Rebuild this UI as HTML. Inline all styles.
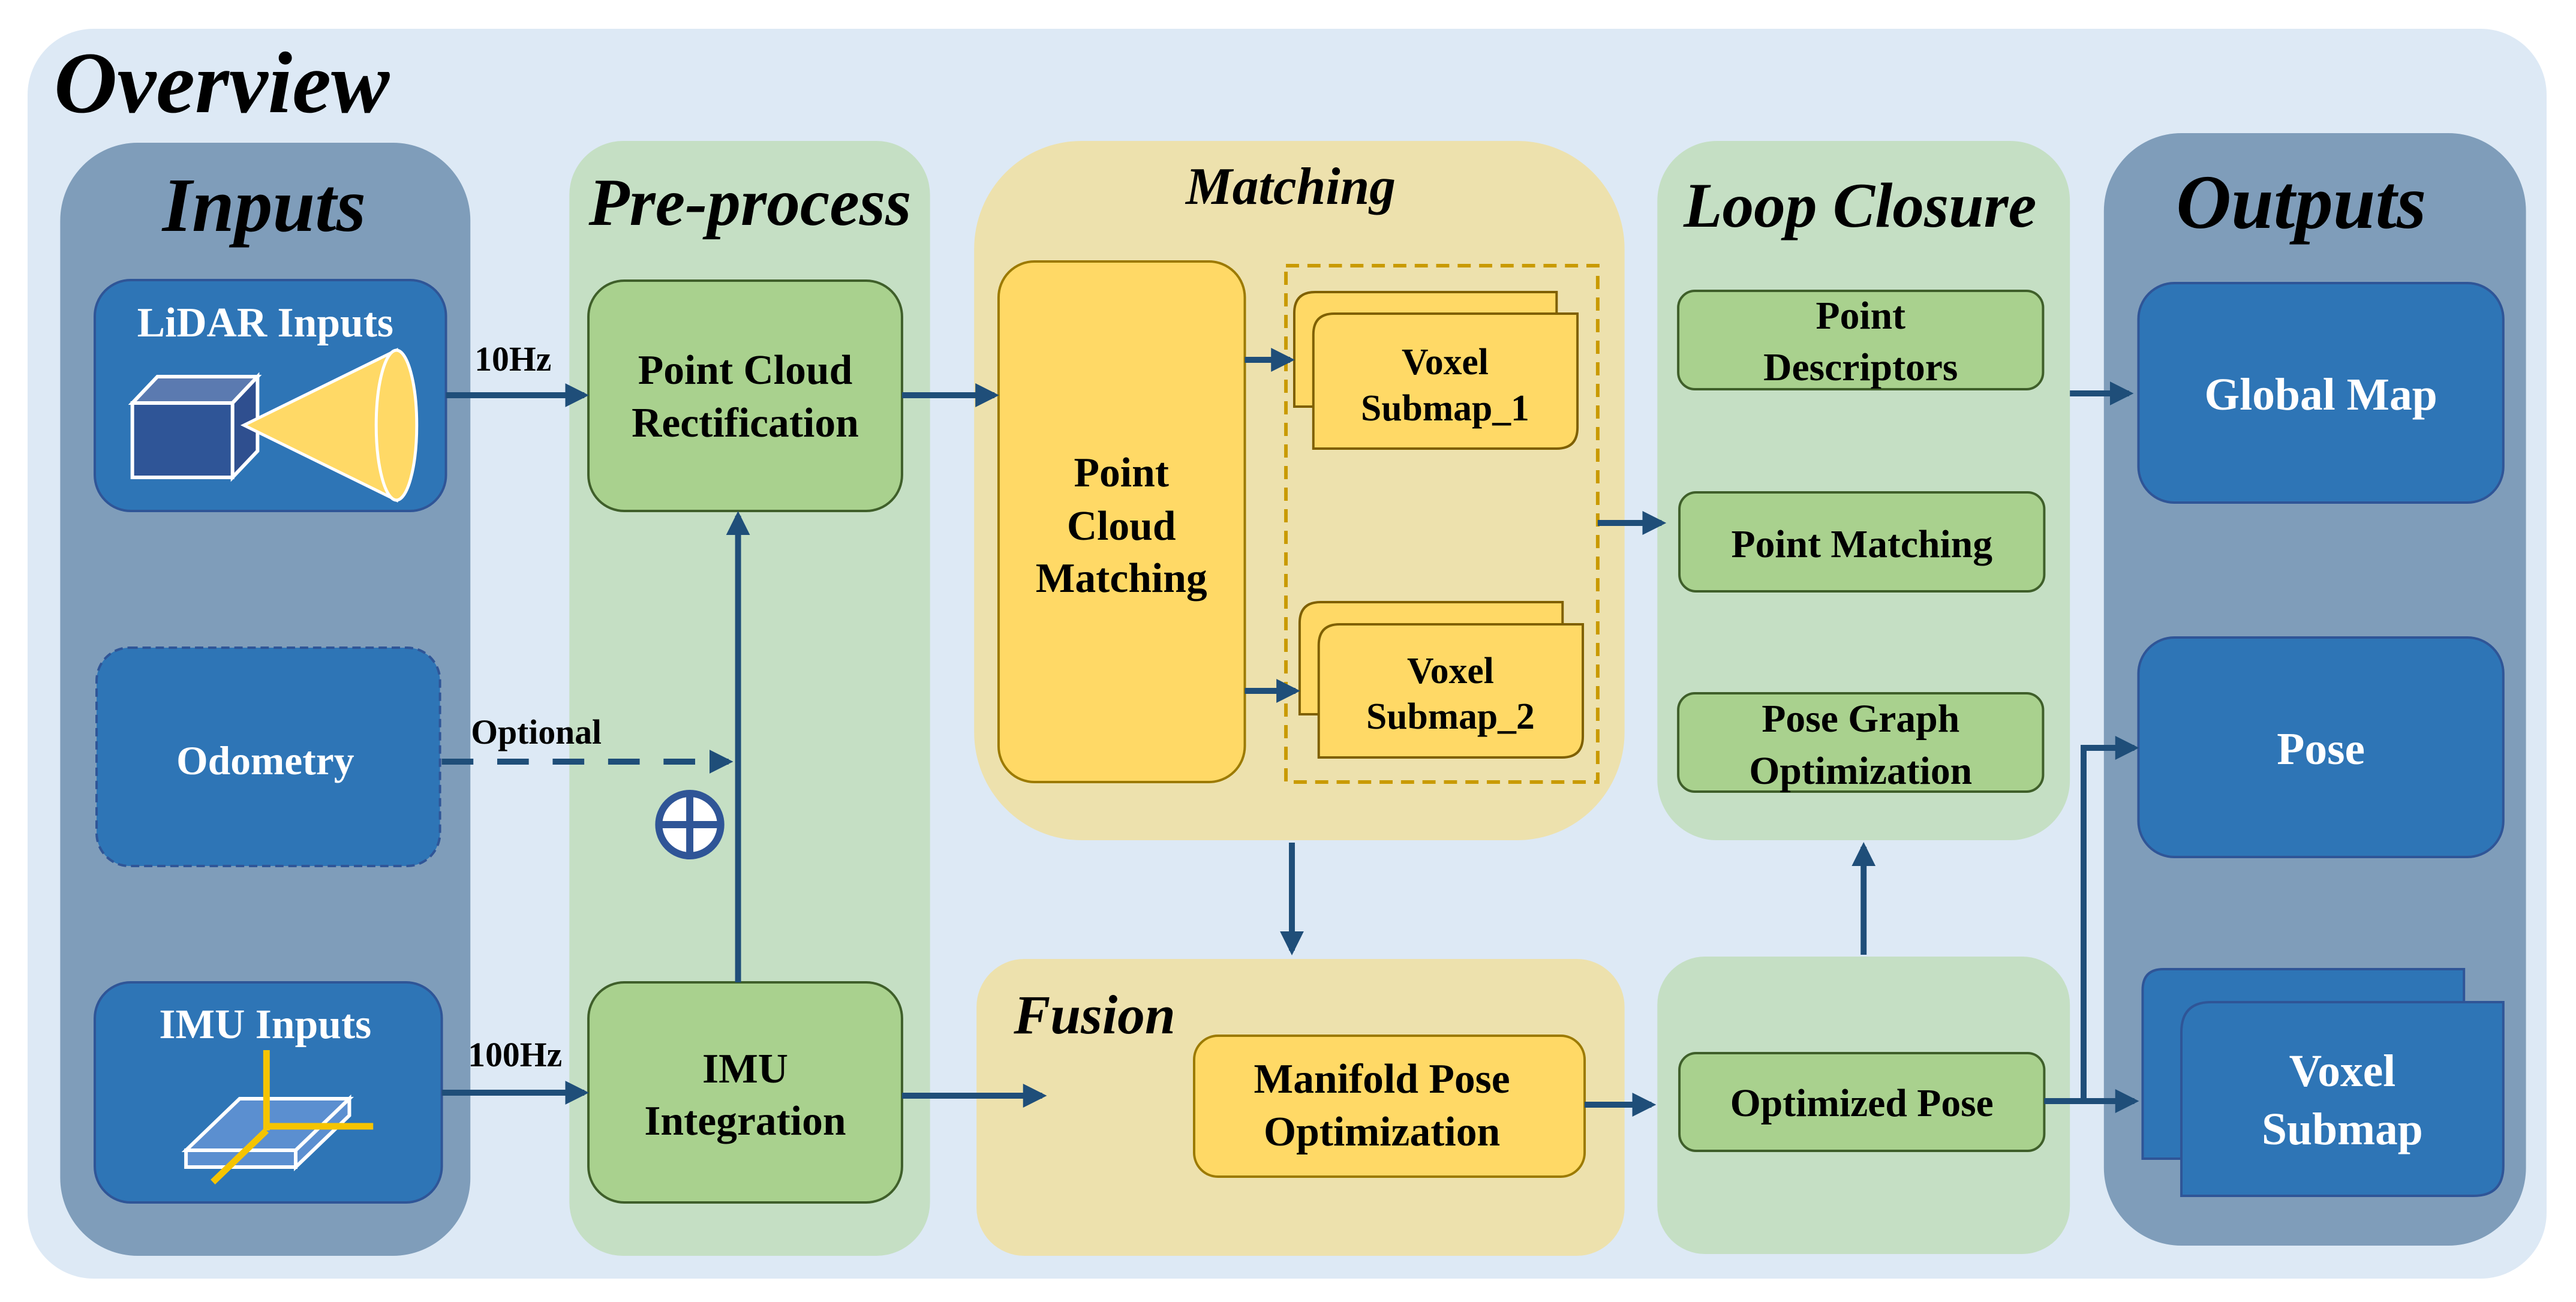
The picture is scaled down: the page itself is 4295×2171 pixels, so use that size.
<!DOCTYPE html>
<html><head><meta charset="utf-8"><style>
html,body{margin:0;padding:0;background:#fff;}
svg{display:block;}
text{font-family:"Liberation Serif",serif;font-weight:bold;}
</style></head><body>
<svg width="4295" height="2171" viewBox="0 0 4295 2171" xmlns="http://www.w3.org/2000/svg">
<defs>
<marker id="ah" markerWidth="4" markerHeight="4" refX="3.2" refY="2" orient="auto" markerUnits="strokeWidth">
<path d="M0,0 L4,2 L0,4 z" fill="#1f4e79"/>
</marker>
</defs>
<rect x="46" y="48" width="4200" height="2084" rx="110" fill="#dde9f5"/>
<text x="90" y="187" font-size="146" font-style="italic" fill="#000">Overview</text>

<g transform="scale(0.994 1)">
<!-- Panels -->
<rect x="101" y="238" width="688" height="1856" rx="130" fill="#7f9dba"/>
<rect x="955" y="235" width="605" height="1859" rx="90" fill="#c5dfc4"/>
<rect x="1634" y="235" width="1091" height="1166" rx="180" fill="#ede1ad"/>
<rect x="1638" y="1599" width="1087" height="495" rx="80" fill="#ede1ad"/>
<rect x="2780" y="235" width="692" height="1166" rx="100" fill="#c5dfc4"/>
<rect x="2780" y="1595" width="692" height="496" rx="80" fill="#c5dfc4"/>
<rect x="3529" y="222" width="708" height="1855" rx="130" fill="#7f9dba"/>

<!-- Titles -->
<g font-style="italic" fill="#000" text-anchor="middle">
<text x="443" y="385" font-size="128">Inputs</text>
<text x="1258" y="375" font-size="112">Pre-process</text>
<text x="2165" y="340" font-size="88">Matching</text>
<text x="1836" y="1723" font-size="92">Fusion</text>
<text x="3120" y="378" font-size="106">Loop Closure</text>
<text x="3860" y="380" font-size="128">Outputs</text>
</g>

<!-- Inputs boxes -->
<rect x="159" y="467" width="589" height="385" rx="60" fill="#2e75b6" stroke="#2f5597" stroke-width="4"/>
<text x="445" y="561" font-size="70" fill="#fff" text-anchor="middle">LiDAR Inputs</text>
<polygon points="222,672 264,628 432,628 390,672" fill="#5b7ab0" stroke="#fff" stroke-width="6"/>
<polygon points="390,672 432,628 432,752 390,796" fill="#2f4f8f" stroke="#fff" stroke-width="6"/>
<rect x="222" y="672" width="168" height="124" fill="#2f5597" stroke="#fff" stroke-width="6"/>
<polygon points="409,709 665,584 665,834" fill="#ffd966" stroke="#fff" stroke-width="5"/>
<ellipse cx="665" cy="709" rx="34" ry="125" fill="#ffd966" stroke="#fff" stroke-width="5"/>

<rect x="162" y="1080" width="576" height="364" rx="55" fill="#2e75b6" stroke="#2f5597" stroke-width="4" stroke-dasharray="14,8"/>
<text x="445" y="1291" font-size="68" fill="#fff" text-anchor="middle">Odometry</text>

<rect x="159" y="1638" width="582" height="367" rx="60" fill="#2e75b6" stroke="#2f5597" stroke-width="4"/>
<text x="445" y="1731" font-size="70" fill="#fff" text-anchor="middle">IMU Inputs</text>
<polygon points="312,1918 402,1832 586,1832 496,1918" fill="#5b8fd0" stroke="#fff" stroke-width="6"/>
<polygon points="312,1918 496,1918 496,1946 312,1946" fill="#5b8fd0" stroke="#fff" stroke-width="6"/>
<polygon points="496,1918 586,1832 586,1860 496,1946" fill="#5b8fd0" stroke="#fff" stroke-width="6"/>
<g stroke="#f5c400" stroke-width="11" fill="none">
<line x1="447" y1="1751" x2="447" y2="1885"/>
<line x1="447" y1="1878" x2="626" y2="1878"/>
<line x1="447" y1="1885" x2="357" y2="1971"/>
</g>

<!-- Pre-process boxes -->
<rect x="987" y="468" width="526" height="384" rx="60" fill="#a9d18e" stroke="#3f5f2a" stroke-width="4"/>
<text x="1250" y="640" font-size="70" text-anchor="middle">Point Cloud</text>
<text x="1250" y="728" font-size="70" text-anchor="middle">Rectification</text>
<rect x="987" y="1638" width="526" height="367" rx="60" fill="#a9d18e" stroke="#3f5f2a" stroke-width="4"/>
<text x="1250" y="1805" font-size="70" text-anchor="middle">IMU</text>
<text x="1250" y="1892" font-size="70" text-anchor="middle">Integration</text>

<!-- Matching -->
<rect x="1675" y="436" width="413" height="868" rx="60" fill="#ffd966" stroke="#9c7a00" stroke-width="4"/>
<text x="1881" y="811" font-size="70" text-anchor="middle">Point</text>
<text x="1881" y="900" font-size="70" text-anchor="middle">Cloud</text>
<text x="1881" y="987" font-size="70" text-anchor="middle">Matching</text>
<rect x="2157" y="443" width="523" height="861" fill="none" stroke="#c99a00" stroke-width="6" stroke-dasharray="22,14"/>

<path d="M2171,678 V522 Q2171,487 2206,487 H2611 V678 Z" fill="#ffd966" stroke="#7f6000" stroke-width="4"/>
<path d="M2203,748 V558 Q2203,523 2238,523 H2646 V713 Q2646,748 2611,748 Z" fill="#ffd966" stroke="#7f6000" stroke-width="4"/>
<text x="2424" y="624" font-size="62" text-anchor="middle">Voxel</text>
<text x="2424" y="701" font-size="62" text-anchor="middle">Submap_1</text>
<path d="M2180,1191 V1039 Q2180,1004 2215,1004 H2621 V1191 Z" fill="#ffd966" stroke="#7f6000" stroke-width="4"/>
<path d="M2212,1263 V1076 Q2212,1041 2247,1041 H2655 V1228 Q2655,1263 2620,1263 Z" fill="#ffd966" stroke="#7f6000" stroke-width="4"/>
<text x="2433" y="1139" font-size="62" text-anchor="middle">Voxel</text>
<text x="2433" y="1215" font-size="62" text-anchor="middle">Submap_2</text>

<!-- Fusion -->
<rect x="2003" y="1727" width="655" height="235" rx="40" fill="#ffd966" stroke="#9c7a00" stroke-width="4"/>
<text x="2318" y="1822" font-size="70" text-anchor="middle">Manifold Pose</text>
<text x="2318" y="1910" font-size="70" text-anchor="middle">Optimization</text>

<!-- Loop closure -->
<g fill="#a9d18e" stroke="#3f5f2a" stroke-width="4">
<rect x="2815" y="485" width="612" height="164" rx="28"/>
<rect x="2817" y="821" width="612" height="165" rx="28"/>
<rect x="2815" y="1156" width="612" height="164" rx="28"/>
<rect x="2817" y="1756" width="612" height="163" rx="28"/>
</g>
<g font-size="66" text-anchor="middle">
<text x="3121" y="548">Point</text>
<text x="3121" y="634">Descriptors</text>
<text x="3123" y="929">Point Matching</text>
<text x="3121" y="1220">Pose Graph</text>
<text x="3121" y="1307">Optimization</text>
<text x="3123" y="1861">Optimized Pose</text>
</g>

<!-- Outputs -->
<rect x="3587" y="472" width="612" height="366" rx="60" fill="#2e75b6" stroke="#2f5597" stroke-width="4"/>
<text x="3893" y="683" font-size="76" fill="#fff" text-anchor="middle">Global Map</text>
<rect x="3587" y="1063" width="612" height="366" rx="60" fill="#2e75b6" stroke="#2f5597" stroke-width="4"/>
<text x="3893" y="1274" font-size="76" fill="#fff" text-anchor="middle">Pose</text>
<path d="M3594,1932 V1651 Q3594,1616 3629,1616 H4133 V1932 Z" fill="#2e75b6" stroke="#2f5597" stroke-width="4"/>
<path d="M3659,1994 V1721 Q3659,1671 3709,1671 H4199 V1944 Q4199,1994 4149,1994 Z" fill="#2e75b6" stroke="#2f5597" stroke-width="4"/>
<text x="3929" y="1811" font-size="76" fill="#fff" text-anchor="middle">Voxel</text>
<text x="3929" y="1908" font-size="76" fill="#fff" text-anchor="middle">Submap</text>

<!-- Labels -->
<g font-size="58">
<text x="796" y="618">10Hz</text>
<text x="790" y="1240">Optional</text>
<text x="785" y="1778">100Hz</text>
</g>

<!-- Connectors -->
<g stroke="#1f4e79" stroke-width="10" fill="none" marker-end="url(#ah)">
<line x1="748" y1="659" x2="980" y2="659"/>
<line x1="741" y1="1822" x2="980" y2="1822"/>
<line x1="1238" y1="1638" x2="1238" y2="860"/>
<line x1="1513" y1="659" x2="1668" y2="659"/>
<line x1="1513" y1="1827" x2="1748" y2="1827"/>
<line x1="2088" y1="600" x2="2164" y2="600"/>
<line x1="2088" y1="1152" x2="2173" y2="1152"/>
<line x1="2680" y1="872" x2="2787" y2="872"/>
<line x1="2167" y1="1405" x2="2167" y2="1585"/>
<line x1="2658" y1="1842" x2="2770" y2="1842"/>
<line x1="3126" y1="1592" x2="3126" y2="1412"/>
<line x1="3472" y1="656" x2="3571" y2="656"/>
<line x1="3429" y1="1836" x2="3580" y2="1836"/>
<polyline points="3490,1836 3495,1836 3495,1247 3580,1247"/>
<line x1="741" y1="1270" x2="1222" y2="1270" stroke-dasharray="53,40"/>
</g>
<circle cx="1157" cy="1375" r="52" fill="#fff" stroke="#2f5597" stroke-width="12"/>
<line x1="1157" y1="1323" x2="1157" y2="1427" stroke="#2f5597" stroke-width="12"/>
<line x1="1105" y1="1375" x2="1209" y2="1375" stroke="#2f5597" stroke-width="12"/>
</g>
</svg>
</body></html>
